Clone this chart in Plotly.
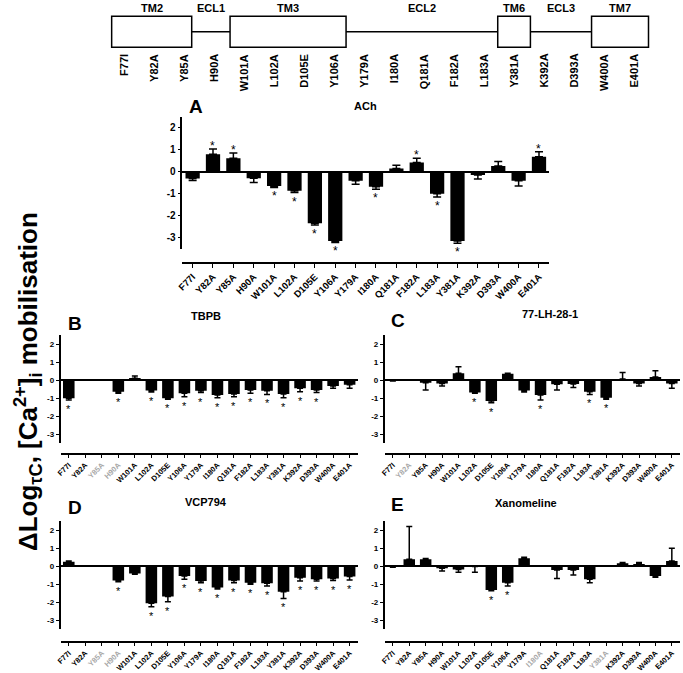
import plotly.graph_objects as go

# ---------------- data ----------------
categories = ["F77I", "Y82A", "Y85A", "H90A", "W101A", "L102A", "D105E", "Y106A", "Y179A",
              "I180A", "Q181A", "F182A", "L183A", "Y381A", "K392A", "D393A", "W400A", "E401A"]

regions = ["TM2", "ECL1", "TM3", "ECL2", "TM6", "ECL3", "TM7"]
region_is_box = [True, False, True, False, True, False, True]
region_start = [-0.41, 2.26, 3.54, 7.41, 12.47, 13.56, 15.60]
region_end = [2.26, 3.54, 7.41, 12.47, 13.56, 15.60, 17.50]

ach_vals = [-0.30, 0.80, 0.62, -0.29, -0.64, -0.86, -2.33, -3.14, -0.41,
            -0.68, 0.15, 0.42, -1.00, -3.14, -0.14, 0.26, -0.41, 0.68]
ach_err = [0.09, 0.23, 0.23, 0.19, 0.07, 0.08, 0.08, 0.06, 0.15,
           0.11, 0.15, 0.19, 0.14, 0.10, 0.19, 0.21, 0.23, 0.23]
ach_sig = ["Y82A", "Y85A", "W101A", "L102A", "D105E", "Y106A", "I180A", "F182A",
           "L183A", "Y381A", "E401A"]
ach_grey = []

tbpb_vals = [-1.02, None, None, -0.65, 0.10, -0.59, -1.02, -0.74, -0.60,
             -0.83, -0.78, -0.56, -0.60, -0.78, -0.46, -0.56, -0.33, -0.26]
tbpb_err = [0.09, 0, 0, 0.09, 0.12, 0.08, 0.05, 0.19, 0.10,
            0.15, 0.15, 0.18, 0.20, 0.20, 0.19, 0.14, 0.13, 0.20]
tbpb_sig = ["F77I", "H90A", "L102A", "D105E", "Y106A", "Y179A", "I180A", "Q181A",
            "F182A", "L183A", "Y381A", "K392A", "D393A"]
tbpb_grey = ["Y85A", "H90A"]

lh_vals = [-0.04, None, -0.15, -0.19, 0.37, -0.69, -1.17, 0.35, -0.59,
           -0.83, -0.24, -0.22, -0.65, -0.98, 0.05, -0.19, 0.17, -0.19]
lh_err = [0.02, 0, 0.41, 0.14, 0.37, 0.05, 0.09, 0.02, 0.08,
          0.28, 0.32, 0.19, 0.15, 0.09, 0.36, 0.14, 0.35, 0.27]
lh_sig = ["L102A", "D105E", "I180A", "L183A", "Y381A"]
lh_grey = ["Y82A"]

vcp_vals = [0.24, None, None, -0.81, -0.41, -2.07, -1.70, -0.56, -0.83,
            -1.20, -0.81, -0.93, -0.96, -1.43, -0.65, -0.74, -0.69, -0.59]
vcp_err = [0.04, 0, 0, 0.06, 0.05, 0.19, 0.28, 0.18, 0.10,
           0.08, 0.12, 0.09, 0.15, 0.37, 0.18, 0.09, 0.12, 0.19]
vcp_sig = ["H90A", "L102A", "D105E", "Y106A", "Y179A", "I180A", "Q181A", "F182A",
           "L183A", "Y381A", "K392A", "D393A", "W400A", "E401A"]
vcp_grey = ["Y85A", "H90A"]

xan_vals = [-0.04, 0.37, 0.37, -0.13, -0.19, -0.03, -1.33, -0.93, 0.43,
            None, -0.22, -0.22, -0.74, None, 0.15, 0.11, -0.56, 0.28]
xan_err = [0.03, 1.82, 0.04, 0.15, 0.16, 0.32, 0.04, 0.18, 0.05,
           0, 0.47, 0.28, 0.19, 0, 0.04, 0.08, 0.07, 0.70]
xan_sig = ["D105E", "Y106A"]
xan_grey = ["I180A", "Y381A"]

# ---------------- layout helpers ----------------
W, H = 683, 673


def px(x):
    return x / W


def py(y):
    return 1 - y / H


fig = go.Figure()
FONT = "Liberation Sans, Arial, sans-serif"

panels = [
    dict(title="ACh", letter="A", vals=ach_vals, err=ach_err, sig=ach_sig, grey=ach_grey,
         x0=178, x1=548, yt=116.7, yb=249, xa=263, tpos=(363, 106), lpos=(192, 106),
         tfs=9.5, yfs=10, cap=4, star=12, tl=4),
    dict(title="TBPB", letter="B", vals=tbpb_vals, err=tbpb_err, sig=tbpb_sig, grey=tbpb_grey,
         x0=55, x1=355, yt=335, yb=443, xa=454, tpos=(202, 316), lpos=(70, 323),
         tfs=7.5, yfs=8, cap=3, star=11, tl=3),
    dict(title="77-LH-28-1", letter="C", vals=lh_vals, err=lh_err, sig=lh_sig, grey=lh_grey,
         x0=382, x1=680, yt=335, yb=443, xa=454, tpos=(549, 314), lpos=(395, 320),
         tfs=7.5, yfs=8, cap=3, star=11, tl=3),
    dict(title="VCP794", letter="D", vals=vcp_vals, err=vcp_err, sig=vcp_sig, grey=vcp_grey,
         x0=55, x1=355, yt=521, yb=629, xa=642, tpos=(202, 502), lpos=(70, 507),
         tfs=7.5, yfs=8, cap=3, star=11, tl=3),
    dict(title="Xanomeline", letter="E", vals=xan_vals, err=xan_err, sig=xan_sig, grey=xan_grey,
         x0=382, x1=680, yt=521, yb=629, xa=642, tpos=(525, 503), lpos=(395, 504),
         tfs=7.5, yfs=8, cap=3, star=11, tl=3),
]

annotations = []
for i, p in enumerate(panels):
    n = "" if i == 0 else str(i + 1)
    xref, yref = "x" + n, "y" + n
    vals, err = p["vals"], p["err"]
    plus = [e if (v is not None and v > 0) else 0 for v, e in zip(vals, err)]
    minus = [e if (v is not None and v <= 0) else 0 for v, e in zip(vals, err)]
    fig.add_trace(go.Bar(
        x=categories, y=vals, width=0.7, marker=dict(color="black", line=dict(width=0)),
        error_y=dict(type="data", symmetric=False, array=plus, arrayminus=minus,
                     color="black", thickness=1.5, width=p["cap"]),
        xaxis=xref, yaxis=yref, showlegend=False, hoverinfo="skip"))
    for c in p["sig"]:
        k = categories.index(c)
        v = vals[k]
        if v is None:
            continue
        if v > 0:
            yv, ys = v + err[k], 3
        else:
            yv, ys = v - err[k], -9
        annotations.append(dict(x=c, y=yv, xref=xref, yref=yref, text="*", showarrow=False,
                                yanchor="middle", yshift=ys,
                                font=dict(family=FONT, size=p["star"], color="black")))
    ticktext = [("<span style='color:#a8a8a8'>%s</span>" % c) if c in p["grey"] else c
                for c in categories]
    xa = dict(domain=[px(p["x0"]), px(p["x1"])], anchor="free", position=py(p["xa"]),
              type="category", range=[-0.5, 17.5], showline=True, linecolor="black", linewidth=1.5,
              ticks="outside", ticklen=p["tl"], tickwidth=1.2, tickcolor="black",
              tickmode="array", tickvals=categories, ticktext=ticktext, tickangle=-45,
              tickfont=dict(family=FONT, size=p["tfs"], color="black", weight="bold"),
              showgrid=False, zeroline=False, fixedrange=True)
    ya = dict(domain=[py(p["yb"]), py(p["yt"])], anchor=xref, range=[-3.5, 2.5],
              showline=True, linecolor="black", linewidth=1.5,
              ticks="outside", ticklen=3, tickwidth=1.2, tickcolor="black",
              tickvals=[-3, -2, -1, 0, 1, 2], ticktext=["-3", "-2", "-1", "0", "1", "2"],
              tickfont=dict(family=FONT, size=p["yfs"], color="black", weight="bold"),
              showgrid=False, zeroline=True, zerolinecolor="black", zerolinewidth=1.5,
              fixedrange=True)
    fig.update_layout(**{"xaxis" + n: xa, "yaxis" + n: ya})
    annotations.append(dict(x=px(p["tpos"][0]), y=py(p["tpos"][1]), xref="paper", yref="paper",
                            text=p["title"], showarrow=False, xanchor="center", yanchor="middle",
                            font=dict(family=FONT, size=11, color="black", weight="bold")))
    annotations.append(dict(x=px(p["lpos"][0]), y=py(p["lpos"][1]), xref="paper", yref="paper",
                            text=p["letter"], showarrow=False, xanchor="center", yanchor="middle",
                            font=dict(family=FONT, size=19, color="black", weight="bold")))

# ---------------- schematic on its own (linear) axis ----------------
sx0, sx1 = 100, 660
fig.update_layout(xaxis6=dict(domain=[px(sx0), px(sx1)], anchor="y6", type="linear",
                              range=[(sx0 - 119) / 30.24, (sx1 - 119) / 30.24],
                              visible=False, fixedrange=True),
                  yaxis6=dict(domain=[py(60), py(0)], anchor="x6", range=[60, 0],
                              visible=False, fixedrange=True))
fig.add_trace(go.Scatter(x=[0], y=[0], xaxis="x6", yaxis="y6", mode="markers",
                         marker=dict(opacity=0), showlegend=False, hoverinfo="skip"))
shapes = []
for name, isbox, a, b in zip(regions, region_is_box, region_start, region_end):
    if isbox:
        shapes.append(dict(type="rect", xref="x6", yref="y6", x0=a, x1=b, y0=16.3, y1=47.2,
                           line=dict(color="black", width=1.5), fillcolor="white", layer="above"))
    else:
        shapes.append(dict(type="line", xref="x6", yref="y6", x0=a, x1=b, y0=31.7, y1=31.7,
                           line=dict(color="black", width=1.5)))
    annotations.append(dict(x=(a + b) / 2, y=8, xref="x6", yref="y6", text=name, showarrow=False,
                            xanchor="center", yanchor="middle",
                            font=dict(family=FONT, size=11, color="black", weight="bold")))
for k, c in enumerate(categories):
    annotations.append(dict(x=k, y=52, xref="x6", yref="y6", text=c, showarrow=False,
                            textangle=-90, xanchor="center", yanchor="top",
                            font=dict(family=FONT, size=11, color="black", weight="bold")))

# shared y axis title
annotations.append(dict(x=px(2), y=py(381), xref="paper", yref="paper",
                        text="ΔLog<sub>τC</sub>, [Ca<sup>2+</sup>]<sub>i</sub> mobilisation",
                        showarrow=False, textangle=-90, xanchor="left", yanchor="middle",
                        font=dict(family=FONT, size=26, color="black", weight="bold")))

fig.update_layout(width=W, height=H, margin=dict(l=0, r=0, t=0, b=0),
                  paper_bgcolor="white", plot_bgcolor="white",
                  bargap=0.3, annotations=annotations, shapes=shapes)
fig.write_html("out.html", config={"displayModeBar": False},
               post_script="document.body.style.margin='0';document.body.style.overflow='hidden';")
